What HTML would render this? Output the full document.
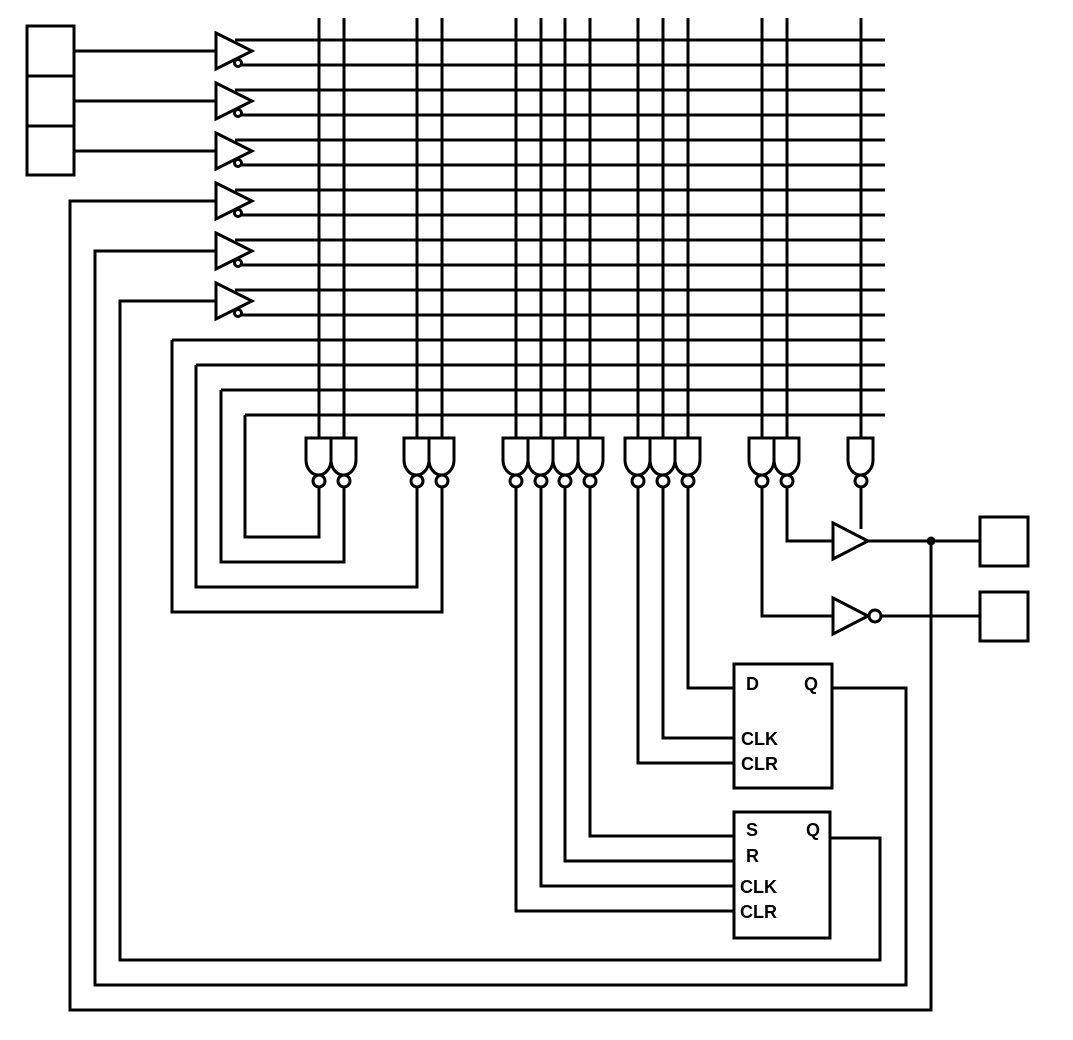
<!DOCTYPE html>
<html><head><meta charset="utf-8"><style>
html,body{margin:0;padding:0;background:#fff;}
svg{display:block;}
text{font-family:"Liberation Sans",sans-serif;font-weight:bold;font-size:18px;fill:#000;}
</style></head><body>
<svg width="1073" height="1040" viewBox="0 0 1073 1040" xmlns="http://www.w3.org/2000/svg">
<g stroke="#000" stroke-width="3" fill="none">
<rect x="27" y="26" width="47" height="149"/>
<line x1="27" y1="76" x2="74" y2="76"/>
<line x1="27" y1="126" x2="74" y2="126"/>
<line x1="74" y1="51" x2="216" y2="51"/>
<line x1="74" y1="101" x2="216" y2="101"/>
<line x1="74" y1="151" x2="216" y2="151"/>
<path d="M235 40H885 M235 65H885 M235 90H885 M235 115H885 M235 140H885 M235 165H885 M235 190H885 M235 215H885 M235 240H885 M235 265H885 M235 290H885 M235 315H885 M172 340H885 M196 365H885 M221 390H885 M245 415H885"/>
<path d="M319 18V438 M344 18V438 M417 18V438 M442 18V438 M516 18V438 M541 18V438 M565 18V438 M590 18V438 M638 18V438 M663 18V438 M688 18V438 M762 18V438 M787 18V438 M861 18V438"/>
<g fill="#fff">
<path d="M216 33L252 51L216 69Z"/><circle cx="238" cy="63" r="3.5"/>
<path d="M216 83L252 101L216 119Z"/><circle cx="238" cy="113" r="3.5"/>
<path d="M216 133L252 151L216 169Z"/><circle cx="238" cy="163" r="3.5"/>
<path d="M216 183L252 201L216 219Z"/><circle cx="238" cy="213" r="3.5"/>
<path d="M216 233L252 251L216 269Z"/><circle cx="238" cy="263" r="3.5"/>
<path d="M216 283L252 301L216 319Z"/><circle cx="238" cy="313" r="3.5"/>
</g>
<g fill="#fff">
<path d="M306 438H331V460A12.5 15 0 0 1 306 460Z"/><circle cx="319" cy="481" r="6"/>
<path d="M331 438H356V460A12.5 15 0 0 1 331 460Z"/><circle cx="344" cy="481" r="6"/>
<path d="M404 438H429V460A12.5 15 0 0 1 404 460Z"/><circle cx="417" cy="481" r="6"/>
<path d="M429 438H454V460A12.5 15 0 0 1 429 460Z"/><circle cx="442" cy="481" r="6"/>
<path d="M503 438H528V460A12.5 15 0 0 1 503 460Z"/><circle cx="516" cy="481" r="6"/>
<path d="M528 438H553V460A12.5 15 0 0 1 528 460Z"/><circle cx="541" cy="481" r="6"/>
<path d="M553 438H578V460A12.5 15 0 0 1 553 460Z"/><circle cx="565" cy="481" r="6"/>
<path d="M578 438H603V460A12.5 15 0 0 1 578 460Z"/><circle cx="590" cy="481" r="6"/>
<path d="M625 438H650V460A12.5 15 0 0 1 625 460Z"/><circle cx="638" cy="481" r="6"/>
<path d="M650 438H675V460A12.5 15 0 0 1 650 460Z"/><circle cx="663" cy="481" r="6"/>
<path d="M675 438H700V460A12.5 15 0 0 1 675 460Z"/><circle cx="688" cy="481" r="6"/>
<path d="M749 438H774V460A12.5 15 0 0 1 749 460Z"/><circle cx="762" cy="481" r="6"/>
<path d="M774 438H799V460A12.5 15 0 0 1 774 460Z"/><circle cx="787" cy="481" r="6"/>
<path d="M848 438H873V460A12.5 15 0 0 1 848 460Z"/><circle cx="861" cy="481" r="6"/>
</g>
<path d="M319 487V537H245V415"/>
<path d="M344 487V562H221V390"/>
<path d="M417 487V587H196V365"/>
<path d="M442 487V612H172V340"/>
<path d="M516 487V911H734"/>
<path d="M541 487V886H734"/>
<path d="M565 487V861H734"/>
<path d="M590 487V836H734"/>
<path d="M638 487V763H734"/>
<path d="M663 487V738H734"/>
<path d="M688 487V688H734"/>
<path d="M762 487V616H833"/>
<path d="M787 487V541H833"/>
<path d="M861 487V529"/>
<path d="M833 523L868 541L833 559Z" fill="#fff"/>
<path d="M833 598L868 616L833 634Z" fill="#fff"/>
<circle cx="875" cy="616" r="6" fill="#fff"/>
<path d="M868 541H980"/>
<path d="M881 616H980"/>
<rect x="980" y="517" width="48" height="49"/>
<rect x="980" y="592" width="48" height="49"/>
<rect x="734" y="664" width="98" height="124"/>
<rect x="734" y="812" width="96" height="126"/>
<path d="M832 688H906V985H95V251H216"/>
<path d="M830 838H880V960H120V301H216"/>
<path d="M931 541V1010H70V201H216"/>
</g>
<circle cx="931" cy="541" r="4.5" fill="#000"/>
<text x="746" y="690">D</text>
<text x="804" y="690">Q</text>
<text x="741" y="745">CLK</text>
<text x="741" y="770">CLR</text>
<text x="746" y="836">S</text>
<text x="806" y="836">Q</text>
<text x="746" y="862">R</text>
<text x="740" y="893">CLK</text>
<text x="740" y="918">CLR</text>
</svg>
</body></html>
